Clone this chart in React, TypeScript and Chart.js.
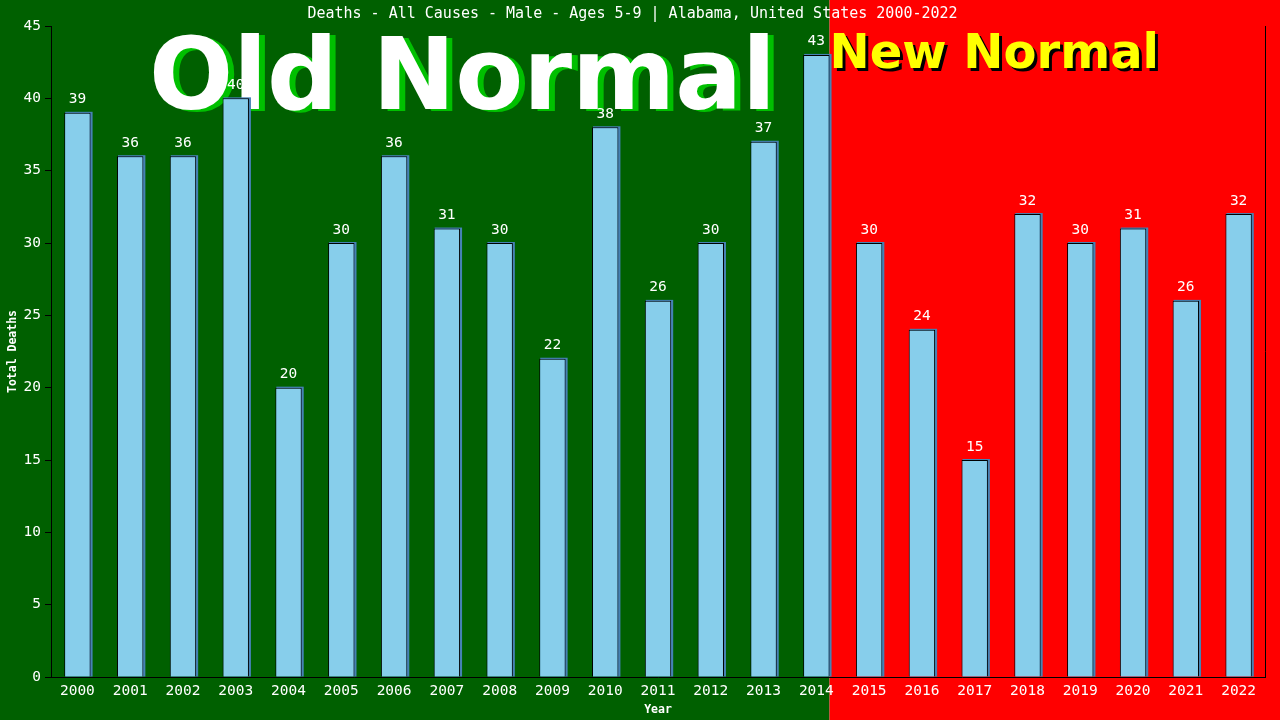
import React, { useEffect, useRef } from 'react';
import { Chart, registerables } from 'chart.js';

Chart.register(...registerables);

const years = ['2000', '2001', '2002', '2003', '2004', '2005', '2006', '2007', '2008', '2009', '2010', '2011',
  '2012', '2013', '2014', '2015', '2016', '2017', '2018', '2019', '2020', '2021', '2022'];
const deaths = [39, 36, 36, 40, 20, 30, 36, 31, 30, 22, 38, 26, 30, 37, 43, 30, 24, 15, 32, 30, 31, 26, 32];
const lastOldNormal = 14; // index of 2014

const mono = "'DejaVu Sans Mono', monospace";
const sans = "'DejaVu Sans', sans-serif";

const decorPlugin = {
  id: 'decor',
  beforeDraw(chart: any) {
    const { ctx, width, height } = chart;
    const meta = chart.getDatasetMeta(0);
    const bar = meta.data[lastOldNormal];
    const split = bar.x + bar.width / 2;
    ctx.save();
    ctx.fillStyle = '#006000';
    ctx.fillRect(0, 0, split, height);
    ctx.fillStyle = '#ff0000';
    ctx.fillRect(split, 0, width - split, height);

    ctx.font = `bold 99px ${sans}`;
    ctx.textBaseline = 'alphabetic';
    ctx.textAlign = 'left';
    ctx.fillStyle = '#00c000';
    ctx.fillText('Old Normal', 155, 111);
    ctx.fillStyle = '#ffffff';
    ctx.fillText('Old Normal', 149, 109);

    ctx.font = `bold 48px ${sans}`;
    ctx.fillStyle = '#000000';
    ctx.fillText('New Normal', split + 3, 71);
    ctx.fillStyle = '#ffff00';
    ctx.fillText('New Normal', split, 68);
    ctx.restore();
  },
  beforeDatasetsDraw(chart: any) {
    const { ctx } = chart;
    const meta = chart.getDatasetMeta(0);
    ctx.save();
    ctx.fillStyle = '#4682b4';
    meta.data.forEach((b: any) => {
      ctx.fillRect(b.x - b.width / 2 + 1, b.y - 1, b.width + 1, b.base - b.y + 1);
    });
    ctx.restore();
  },
  afterDatasetsDraw(chart: any) {
    const { ctx, chartArea } = chart;
    const meta = chart.getDatasetMeta(0);
    ctx.save();
    ctx.font = `14.5px ${mono}`;
    ctx.fillStyle = '#ffffff';
    ctx.textAlign = 'center';
    ctx.textBaseline = 'bottom';
    meta.data.forEach((b: any, i: number) => {
      ctx.fillText(String(deaths[i]), b.x, b.y - 6);
    });
    ctx.strokeStyle = '#000000';
    ctx.lineWidth = 1;
    ctx.beginPath();
    ctx.moveTo(Math.round(chartArea.right) + 0.5, chartArea.top);
    ctx.lineTo(Math.round(chartArea.right) + 0.5, chartArea.bottom);
    ctx.stroke();
    ctx.restore();
  },
};

const App: React.FC = () => {
  const canvasRef = useRef<HTMLCanvasElement>(null);

  useEffect(() => {
    const chart = new Chart(canvasRef.current as HTMLCanvasElement, {
      type: 'bar',
      data: {
        labels: years,
        datasets: [{
          data: deaths,
          backgroundColor: '#87ceeb',
          borderColor: '#000000',
          borderWidth: 1,
          borderSkipped: 'start',
          categoryPercentage: 1,
          barPercentage: 0.5,
        }],
      },
      options: {
        responsive: false,
        devicePixelRatio: 1,
        animation: false,
        layout: { padding: { left: 0, right: 15, top: 0, bottom: 0 } },
        plugins: {
          legend: { display: false },
          tooltip: { enabled: false },
          title: {
            display: true,
            text: 'Deaths - All Causes - Male - Ages 5-9 | Alabama, United States 2000-2022',
            color: '#ffffff',
            font: { family: mono, size: 15, weight: 'normal' },
            padding: { top: 5, bottom: 3 },
          },
        },
        scales: {
          x: {
            grid: { display: false },
            border: { display: true, color: '#000000', width: 1 },
            ticks: { color: '#ffffff', font: { family: mono, size: 14.5 }, padding: -2, maxRotation: 0, autoSkip: false },
            title: { display: true, text: 'Year', color: '#ffffff', font: { family: mono, size: 11.5, weight: 'bold' }, padding: { top: 0, bottom: 3 } },
            afterFit: (s: any) => { s.height = 43; },
          },
          y: {
            min: 0,
            max: 45,
            grid: { display: true, drawOnChartArea: false, color: '#000000', tickLength: 6 },
            border: { display: true, color: '#000000', width: 1 },
            ticks: { stepSize: 5, color: '#ffffff', font: { family: mono, size: 14.5 }, padding: 4 },
            title: { display: true, text: 'Total Deaths', color: '#ffffff', font: { family: mono, size: 11.5, weight: 'bold' }, padding: { top: 6, bottom: 0 } },
            afterFit: (s: any) => { s.width = 51; },
          },
        },
      },
      plugins: [decorPlugin],
    });
    return () => {
      chart.destroy();
    };
  }, []);

  return (
    <div style={{ position: 'fixed', left: 0, top: 0, width: 1280, height: 720 }}>
      <canvas ref={canvasRef} width={1280} height={720} />
    </div>
  );
};

export default App;
